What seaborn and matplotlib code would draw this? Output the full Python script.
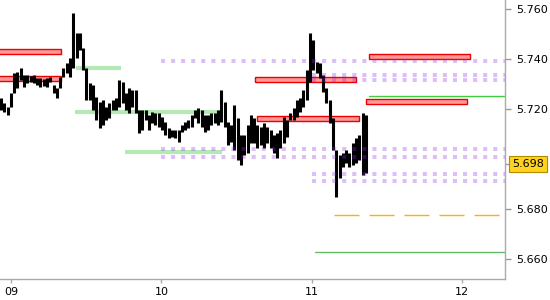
import numpy as np
import matplotlib
matplotlib.use("Agg")
import matplotlib.pyplot as plt
import seaborn as sns
from matplotlib.patches import Rectangle

# ---- price bars (high / low), evenly spaced in time ----
bar_high = [5.7244, 5.7224, 5.7208, 5.7264, 5.7344, 5.7348, 5.7364, 5.7336, 5.7336, 5.7332,
            5.7336, 5.7324, 5.7324, 5.7320, 5.7324, 5.7328, 5.7296, 5.7284, 5.7328, 5.7364,
            5.7384, 5.7404, 5.7584, 5.7504, 5.7504, 5.7444, 5.7364, 5.7304, 5.7296, 5.7248,
            5.7228, 5.7236, 5.7208, 5.7224, 5.7236, 5.7244, 5.7316, 5.7308, 5.7264, 5.7284,
            5.7276, 5.7276, 5.7196, 5.7196, 5.7196, 5.7176, 5.7188, 5.7184, 5.7184, 5.7168,
            5.7148, 5.7124, 5.7116, 5.7116, 5.7116, 5.7136, 5.7148, 5.7156, 5.7176, 5.7196,
            5.7204, 5.7196, 5.7176, 5.7176, 5.7184, 5.7184, 5.7196, 5.7276, 5.7228, 5.7148,
            5.7136, 5.7216, 5.7164, 5.7096, 5.7096, 5.7136, 5.7176, 5.7164, 5.7136, 5.7128,
            5.7144, 5.7128, 5.7116, 5.7096, 5.7104, 5.7116, 5.7168, 5.7156, 5.7184, 5.7204,
            5.7236, 5.7244, 5.7276, 5.7356, 5.7504, 5.7476, 5.7388, 5.7384, 5.7336, 5.7284,
            5.7236, 5.7164, 5.7036, 5.7016, 5.7024, 5.7036, 5.7024, 5.7064, 5.7084, 5.7096,
            5.7184, 5.7176]
bar_low = [5.7196, 5.7188, 5.7176, 5.7208, 5.7264, 5.7284, 5.7316, 5.7288, 5.7304, 5.7308,
           5.7304, 5.7296, 5.7288, 5.7292, 5.7288, 5.7308, 5.7264, 5.7244, 5.7284, 5.7328,
           5.7344, 5.7328, 5.7364, 5.7404, 5.7436, 5.7356, 5.7236, 5.7236, 5.7196, 5.7156,
           5.7124, 5.7136, 5.7156, 5.7164, 5.7196, 5.7196, 5.7208, 5.7224, 5.7196, 5.7184,
           5.7208, 5.7184, 5.7104, 5.7116, 5.7156, 5.7116, 5.7144, 5.7136, 5.7128, 5.7116,
           5.7096, 5.7084, 5.7088, 5.7084, 5.7068, 5.7108, 5.7116, 5.7124, 5.7128, 5.7164,
           5.7144, 5.7128, 5.7108, 5.7116, 5.7136, 5.7144, 5.7136, 5.7148, 5.7128, 5.7056,
           5.7068, 5.7036, 5.6996, 5.6976, 5.7016, 5.7024, 5.7064, 5.7064, 5.7044, 5.7056,
           5.7044, 5.7064, 5.7044, 5.7024, 5.7004, 5.7044, 5.7064, 5.7088, 5.7156, 5.7156,
           5.7168, 5.7188, 5.7208, 5.7236, 5.7308, 5.7356, 5.7344, 5.7324, 5.7268, 5.7224,
           5.7144, 5.7036, 5.6848, 5.6924, 5.6968, 5.6984, 5.6968, 5.6976, 5.6984, 5.6996,
           5.6936, 5.6944]
first_bar_day = 8.9336
last_bar_day = 11.359

# ---- red zones: (start day, end day, low, high) ----
red_start = [8.90, 8.90, 10.621, 10.635, 11.379, 11.359]
red_end = [9.332, 9.332, 11.292, 11.312, 12.050, 12.030]
red_low = [5.7420, 5.7312, 5.7308, 5.7152, 5.7400, 5.7220]
red_high = [5.7440, 5.7332, 5.7330, 5.7172, 5.7420, 5.7240]

# ---- green bands ----
green_start = [9.432, 9.425, 9.757]
green_end = [9.731, 10.389, 10.402]
green_level = [5.7364, 5.7190, 5.7028]

# ---- purple dotted levels ----
dot_start = [10.0, 11.0, 11.0, 10.0, 10.0, 11.0, 11.0]
dot_level = [5.7392, 5.7336, 5.7316, 5.7040, 5.7008, 5.6940, 5.6914]

# ---- thin lines ----
thin_green_start = [11.379, 11.020]
thin_green_level = [5.7251, 5.6627]
thin_green_color = ["#3fcc3f", "#66bb66"]
orange_start, orange_end, orange_level = 11.146, 12.243, 5.6775

last_price = 5.698
y_ticks = [5.660, 5.680, 5.720, 5.740, 5.760]
x_ticks = [9, 10, 11, 12]
x_labels = ["09", "10", "11", "12"]

XMIN, XMAX = 8.927, 12.283
YMIN, YMAX = 5.6520, 5.7636

sns.set_theme(style="white")
plt.rcParams["font.family"] = ["DejaVu Sans"]

fig = plt.figure(figsize=(5.5, 3.0), dpi=100)
ax = fig.add_axes([0.0, 0.07, 0.918, 0.93])
ax.set_xlim(XMIN, XMAX)
ax.set_ylim(YMIN, YMAX)

# red rectangles
for s, e, lo, hi in zip(red_start, red_end, red_low, red_high):
    ax.add_patch(Rectangle((s, lo), e - s, hi - lo, facecolor="#ff9898",
                           edgecolor="#ee0000", linewidth=1.0, zorder=2))

# green bands
for s, e, lv in zip(green_start, green_end, green_level):
    ax.plot([s, e], [lv, lv], color="#b4e8b4", lw=3.0, solid_capstyle="butt", zorder=1)

# price bars
n = len(bar_high)
times = np.linspace(first_bar_day, last_bar_day, n)
ax.vlines(times, bar_low, bar_high, color="black", lw=2.2, zorder=3)

# purple dotted levels (semi-transparent, on top)
for s, lv in zip(dot_start, dot_level):
    ax.plot([s, XMAX], [lv, lv], color="#8a2be2", alpha=0.3, lw=2.9,
            linestyle=(0, (1.0, 1.5)), dash_capstyle="butt", zorder=4)

# thin lines
for s, lv, c in zip(thin_green_start, thin_green_level, thin_green_color):
    sns.lineplot(x=[s, XMAX], y=[lv, lv], color=c, lw=1.0, ax=ax, zorder=2)
ax.plot([orange_start, orange_end], [orange_level, orange_level], color="#ffb000",
        lw=1.0, linestyle=(0, (18, 7.2)), dash_capstyle="butt", zorder=2)

# axes styling
for side in ["left", "top"]:
    ax.spines[side].set_visible(False)
for side in ["right", "bottom"]:
    ax.spines[side].set_visible(True)
    ax.spines[side].set_color("#aaaaaa")
    ax.spines[side].set_linewidth(1.0)
ax.yaxis.tick_right()
ax.set_yticks(y_ticks + [last_price])
ax.set_yticklabels([f"{v:.3f}" for v in y_ticks] + [""])
ax.set_xticks(x_ticks)
ax.set_xticklabels(x_labels)
ax.tick_params(axis="y", which="both", right=True, left=False, length=4, width=1,
               color="#999999", labelsize=8, pad=4, labelcolor="black")
ax.tick_params(axis="x", which="both", bottom=True, length=3, width=1,
               color="#aaaaaa", labelsize=8, pad=3, labelcolor="black")
ax.grid(False)

ax.text(1.014, last_price, f"{last_price:.3f}", transform=ax.get_yaxis_transform(),
        ha="left", va="center", fontsize=8, color="black", zorder=10, clip_on=False,
        bbox=dict(boxstyle="square,pad=0.3", facecolor="#ffd21f", edgecolor="#b08a00",
                  linewidth=0.8))

fig.savefig("out.png", dpi=100)
